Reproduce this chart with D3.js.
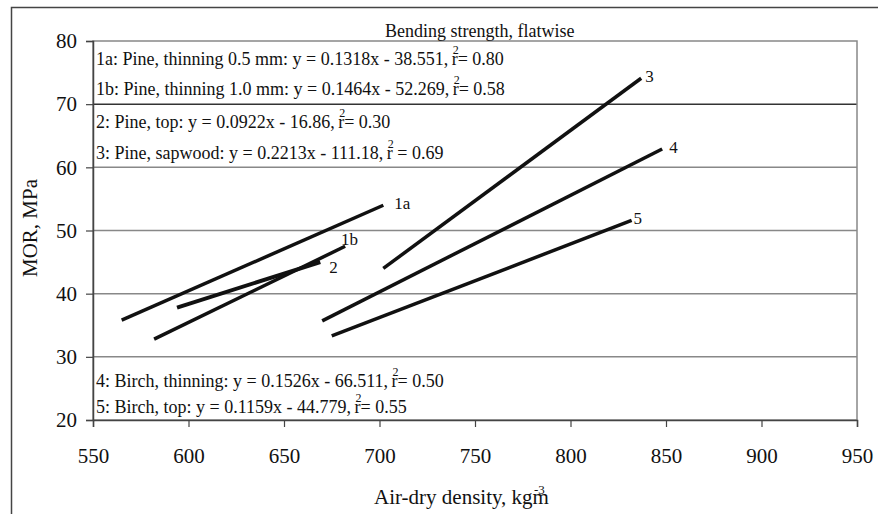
<!DOCTYPE html>
<html>
<head>
<meta charset="utf-8">
<script src="https://cdn.jsdelivr.net/npm/d3@7"></script>
<style>
  body { margin: 0; background: #fff; }
  svg text { font-family: "Liberation Serif", "Times New Roman", serif; fill: #111; }
</style>
</head>
<body>
<svg id="chart"></svg>
<script>
var width = 878;
var height = 514;

// series: fitted lines (start / end of each line)
var seriesIds = ["1a", "1b", "2", "3", "4", "5"];
var xStart = [565, 582, 594, 702, 670, 675];
var yStart = [35.8, 32.8, 37.8, 44.0, 35.7, 33.3];
var xEnd = [702, 682, 669, 837, 848, 832];
var yEnd = [54.0, 47.5, 45.0, 74.1, 62.9, 51.6];

// equation notes
var noteLabels = [
  "1a: Pine, thinning 0.5 mm: y = 0.1318x - 38.551, ",
  "1b: Pine, thinning 1.0 mm: y = 0.1464x - 52.269, ",
  "2: Pine, top: y = 0.0922x - 16.86, ",
  "3: Pine, sapwood: y = 0.2213x - 111.18, ",
  "4: Birch, thinning: y = 0.1526x - 66.511, ",
  "5: Birch, top: y = 0.1159x - 44.779, "
];
var noteR2 = ["r= 0.80", "r= 0.58", "r= 0.30", "r = 0.69", "r= 0.50", "r= 0.55"];

var xTicks = [550, 600, 650, 700, 750, 800, 850, 900, 950];
var yTicks = [20, 30, 40, 50, 60, 70, 80];

var svg = d3.select("#chart")
    .attr("width", width)
    .attr("height", height);

// outer frame
svg.append("path")
    .attr("d", "M11.5,514 L11.5,7.5 L878,7.5")
    .attr("fill", "none")
    .attr("stroke", "#444")
    .attr("stroke-width", 1.5);

var xScale = d3.scaleLinear().domain([550, 950]).range([93, 857]);
var yScale = d3.scaleLinear().domain([20, 80]).range([420, 41]);

// gridlines
svg.selectAll("line.grid")
  .data(yTicks.filter(function(d) { return d > 20 && d < 80; }))
  .enter()
  .append("line")
    .attr("class", "grid")
    .attr("x1", xScale(550))
    .attr("x2", xScale(950))
    .attr("y1", function(d) { return yScale(d); })
    .attr("y2", function(d) { return yScale(d); })
    .attr("stroke", function(d) { return d === 70 ? "#333" : "#888"; })
    .attr("stroke-width", 1.5);

// plot border
svg.append("rect")
    .attr("x", xScale(550))
    .attr("y", yScale(80))
    .attr("width", xScale(950) - xScale(550))
    .attr("height", yScale(20) - yScale(80))
    .attr("fill", "none")
    .attr("stroke", "#888")
    .attr("stroke-width", 1.5);

// axes
var xAxis = svg.append("g")
    .attr("transform", "translate(0," + yScale(20) + ")")
    .call(d3.axisBottom(xScale).tickValues(xTicks).tickSize(7).tickPadding(21));
var yAxis = svg.append("g")
    .attr("transform", "translate(" + xScale(550) + ",0)")
    .call(d3.axisLeft(yScale).tickValues(yTicks).tickSize(7).tickPadding(9));

[xAxis, yAxis].forEach(function(ax) {
  ax.select(".domain").attr("stroke", "#444").attr("stroke-width", 1.5);
  ax.selectAll(".tick line").attr("stroke", "#444").attr("stroke-width", 1.2);
  ax.selectAll(".tick text")
    .attr("font-family", "Liberation Serif")
    .attr("font-size", 21)
    .attr("fill", "#111");
});

// notes (equations)
var noteY = [65, 95, 128, 159, 387, 413];
noteLabels.forEach(function(txt, i) {
  var t = svg.append("text")
      .attr("x", 96)
      .attr("y", noteY[i])
      .attr("font-size", 18);
  t.append("tspan").text(txt);
  t.append("tspan").attr("dy", -11).attr("font-size", 12).text("2");
  t.append("tspan").attr("dy", 11).attr("dx", -7).text(noteR2[i]);
});

// lines
var lineData = seriesIds.map(function(id, i) {
  return { id: id, x0: xStart[i], y0: yStart[i], x1: xEnd[i], y1: yEnd[i] };
});

svg.selectAll("line.fit")
  .data(lineData)
  .enter()
  .append("line")
    .attr("class", "fit")
    .attr("x1", function(d) { return xScale(d.x0); })
    .attr("y1", function(d) { return yScale(d.y0); })
    .attr("x2", function(d) { return xScale(d.x1); })
    .attr("y2", function(d) { return yScale(d.y1); })
    .attr("stroke", "#111")
    .attr("stroke-width", function(d) { return d.id === "2" ? 4 : 3.5; });

// line labels
var labelDx = [11, -4, 9, 4, 7, 2];
var labelDy = [4, -1, 11, 4, 4, 4];
svg.selectAll("text.lab")
  .data(lineData)
  .enter()
  .append("text")
    .attr("class", "lab")
    .attr("x", function(d, i) { return xScale(d.x1) + labelDx[i]; })
    .attr("y", function(d, i) { return yScale(d.y1) + labelDy[i]; })
    .attr("font-size", 17)
    .text(function(d) { return d.id; });

// title
svg.append("text")
    .attr("x", 385)
    .attr("y", 37)
    .attr("font-size", 18)
    .text("Bending strength, flatwise");

// axis titles
var xt = svg.append("text")
    .attr("x", 374)
    .attr("y", 504)
    .attr("font-size", 21);
xt.append("tspan").text("Air-dry density, kgm");
xt.append("tspan").attr("dx", -15).attr("dy", -10).attr("font-size", 13).text("-3");

svg.append("text")
    .attr("transform", "translate(37,228) rotate(-90)")
    .attr("text-anchor", "middle")
    .attr("font-size", 21)
    .text("MOR, MPa");
</script>
</body>
</html>
